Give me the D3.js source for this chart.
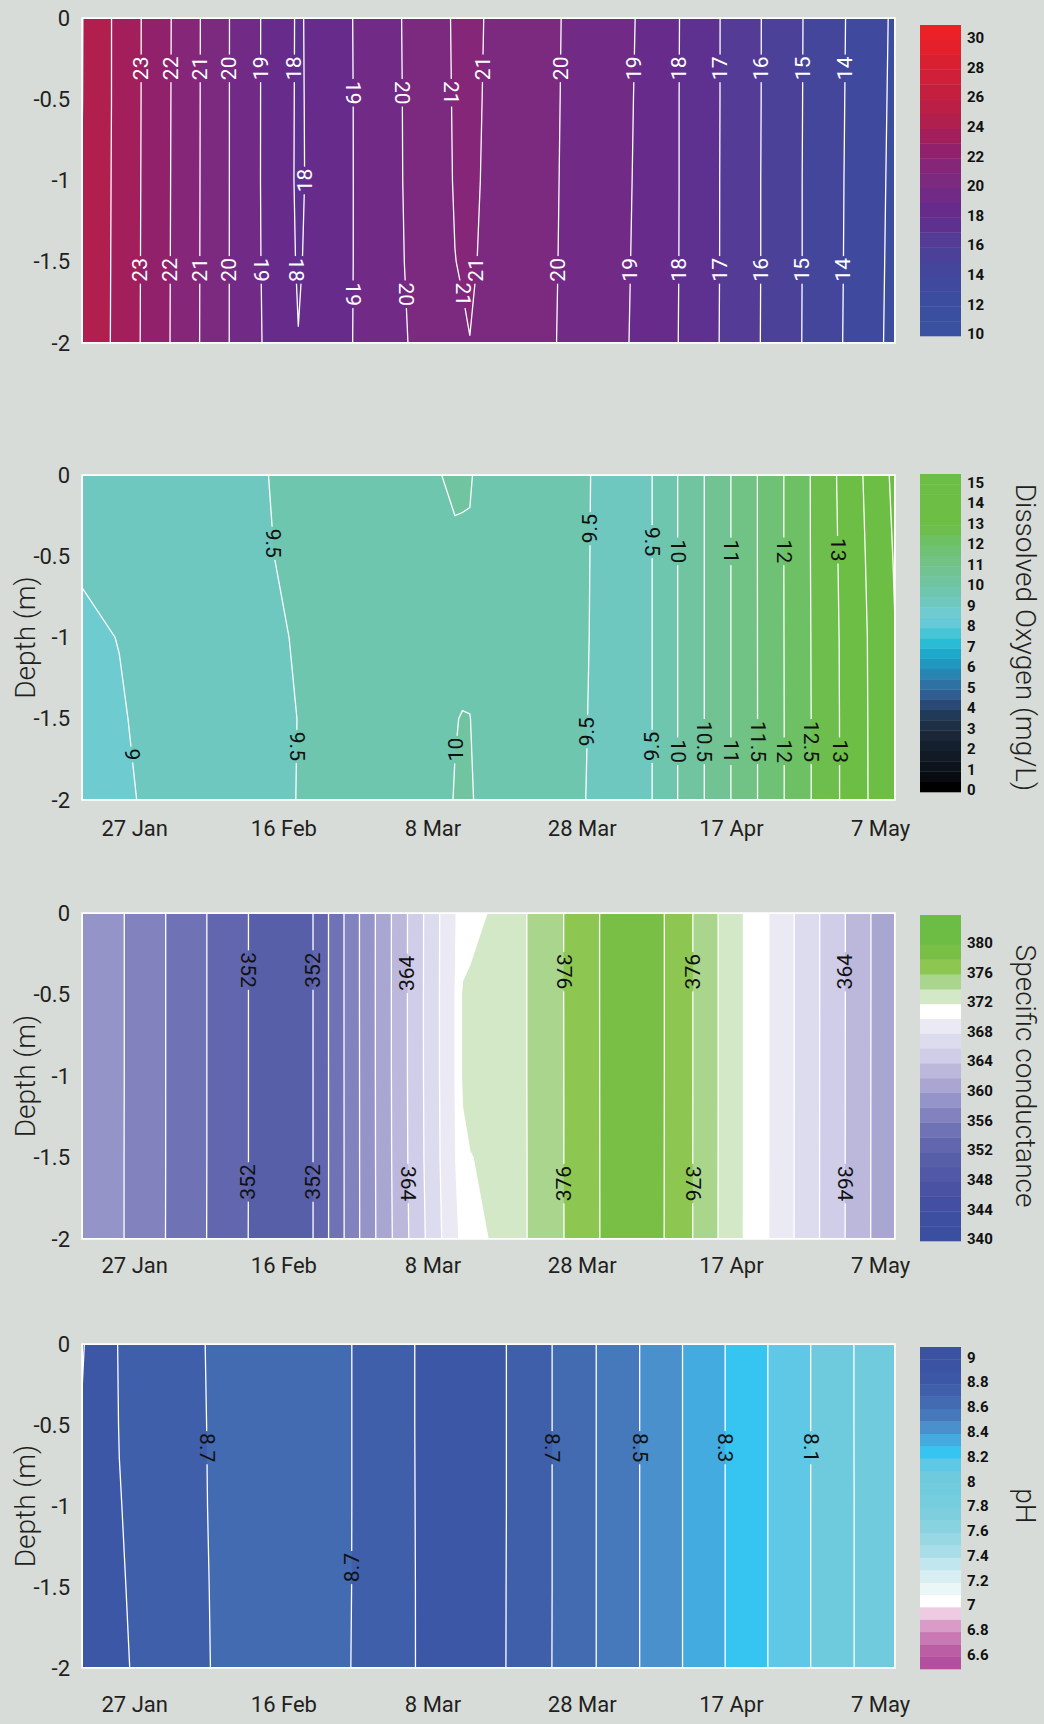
<!DOCTYPE html>
<html>
<head>
<meta charset="utf-8">
<script src="https://cdn.jsdelivr.net/npm/d3@7"></script>
<style>
  html, body { margin: 0; padding: 0; background: #d7dcd8; }
  svg { display: block; font-family: Roboto, "DejaVu Sans", sans-serif; }
</style>
</head>
<body>
<svg id="chart" width="1044" height="1724"></svg>
<script>
// sampling dates shared by the four profiles, depths of each profile
var sampleDates = ['2015-01-20', '2015-01-25', '2015-02-01', '2015-02-11', '2015-02-18', '2015-02-27',
  '2015-03-11', '2015-03-12', '2015-03-13', '2015-03-16', '2015-03-21', '2015-03-27',
  '2015-04-01', '2015-04-05', '2015-04-10', '2015-04-18', '2015-04-27', '2015-05-09'];
var depths = [0, -0.5, -1, -1.5, -2];
var depthTicks = [0, -0.5, -1, -1.5, -2];
var dateTicks = ['2015-01-27', '2015-02-16', '2015-03-08', '2015-03-28', '2015-04-17', '2015-05-07'];

// one row per depth, one value per sample date
var tempValues = [
  [25.03, 23.73, 21.99, 19.43, 17.89, 19.26, 21.09, 21.14, 21.18, 20.89, 20.41, 19.83, 19.34, 18.91, 18.02, 16.55, 14.94, 12.84],
  [25.02, 23.73, 21.98, 19.43, 17.88, 19.25, 21.07, 21.12, 21.17, 20.86, 20.39, 19.82, 19.33, 18.88, 18.01, 16.55, 14.93, 12.81],
  [24.99, 23.72, 21.97, 19.43, 17.87, 19.25, 21.05, 21.10, 21.15, 20.83, 20.37, 19.81, 19.31, 18.86, 18.01, 16.54, 14.92, 12.78],
  [24.97, 23.71, 21.96, 19.43, 17.92, 19.24, 20.99, 21.05, 21.10, 20.79, 20.35, 19.80, 19.30, 18.83, 18.004, 16.54, 14.92, 12.75],
  [24.95, 23.70, 21.95, 19.43, 18.02, 19.23, 20.85, 20.92, 20.99, 20.74, 20.32, 19.79, 19.28, 18.80, 17.99, 16.53, 14.91, 12.72]
];
var doValues = [
  [9.20, 9.26, 9.35, 9.44, 9.58, 9.77, 10.04, 10.03, 10.02, 9.85, 9.76, 9.57, 9.41, 9.29, 10.02, 11.14, 12.41, 14.11],
  [9.05, 9.20, 9.30, 9.43, 9.56, 9.70, 9.96, 9.965, 9.97, 9.83, 9.75, 9.565, 9.41, 9.29, 10.02, 11.14, 12.41, 14.04],
  [8.92, 9.01, 9.24, 9.36, 9.53, 9.62, 9.90, 9.91, 9.92, 9.80, 9.74, 9.56, 9.41, 9.29, 10.02, 11.14, 12.405, 13.99],
  [8.86, 8.96, 9.20, 9.31, 9.505, 9.57, 9.99, 10.01, 10.005, 9.83, 9.73, 9.55, 9.41, 9.29, 10.02, 11.14, 12.40, 13.98],
  [8.80, 8.93, 9.14, 9.30, 9.51, 9.55, 10.01, 10.02, 10.03, 9.85, 9.72, 9.54, 9.41, 9.29, 10.02, 11.14, 12.40, 13.975]
];
var condValues = [
  [359.95, 358.24, 355.72, 352.09, 350.10, 358.77, 369.90, 370.46, 370.96, 372.32, 374.13, 376.58, 378.67, 379.40, 377.12, 372.40, 367.11, 360.12],
  [359.95, 358.24, 355.72, 352.09, 350.10, 358.77, 369.93, 372.30, 372.60, 372.33, 374.13, 376.58, 378.67, 379.40, 377.12, 372.40, 367.11, 360.12],
  [359.95, 358.24, 355.72, 352.09, 350.10, 358.76, 369.93, 372.30, 372.60, 372.33, 374.13, 376.57, 378.67, 379.40, 377.12, 372.40, 367.11, 360.11],
  [359.94, 358.23, 355.72, 352.09, 350.10, 358.75, 369.85, 371.50, 371.95, 372.30, 374.12, 376.57, 378.66, 379.40, 377.11, 372.40, 367.10, 360.11],
  [359.94, 358.23, 355.71, 352.08, 350.10, 358.74, 369.60, 370.35, 370.90, 372.25, 374.12, 376.56, 378.66, 379.39, 377.11, 372.39, 367.10, 360.10]
];
var phValues = [
  [8.907, 8.795, 8.737, 8.655, 8.645, 8.714, 8.870, 8.870, 8.865, 8.830, 8.751, 8.650, 8.565, 8.496, 8.409, 8.269, 8.112, 7.905],
  [8.895, 8.798, 8.740, 8.655, 8.645, 8.714, 8.870, 8.870, 8.865, 8.830, 8.751, 8.650, 8.565, 8.496, 8.409, 8.269, 8.112, 7.905],
  [8.885, 8.803, 8.742, 8.655, 8.645, 8.714, 8.869, 8.869, 8.864, 8.830, 8.751, 8.650, 8.565, 8.496, 8.409, 8.269, 8.112, 7.906],
  [8.872, 8.808, 8.745, 8.656, 8.646, 8.714, 8.868, 8.868, 8.863, 8.829, 8.751, 8.650, 8.565, 8.496, 8.409, 8.269, 8.112, 7.906],
  [8.860, 8.813, 8.748, 8.656, 8.646, 8.715, 8.867, 8.867, 8.862, 8.829, 8.750, 8.650, 8.565, 8.496, 8.409, 8.269, 8.112, 7.906]
];

// colour-bar ticks
var tempTicks = [10, 12, 14, 16, 18, 20, 22, 24, 26, 28, 30];
var doTicks = [0, 1, 2, 3, 4, 5, 6, 7, 8, 9, 10, 11, 12, 13, 14, 15];
var condTicks = [340, 344, 348, 352, 356, 360, 364, 368, 372, 376, 380];
var phTicks = [6.6, 6.8, 7, 7.2, 7.4, 7.6, 7.8, 8, 8.2, 8.4, 8.6, 8.8, 9];

// contour labels: level, date near the line, depth, text rotation
var tempLabels = [
  [23, '2015-01-28', -0.31, -90], [22, '2015-02-01', -0.31, -90], [21, '2015-02-05', -0.31, -90],
  [20, '2015-02-09', -0.31, -90], [19, '2015-02-13', -0.31, -90], [18, '2015-02-17', -0.31, -90],
  [18, '2015-02-19', -1.0, -90],
  [19, '2015-02-25', -0.46, 90], [20, '2015-03-04', -0.46, 90], [21, '2015-03-10', -0.46, 90],
  [21, '2015-03-15', -0.31, -90], [20, '2015-03-25', -0.31, -90], [19, '2015-04-04', -0.31, -90],
  [18, '2015-04-10', -0.31, -90], [17, '2015-04-15', -0.31, -90], [16, '2015-04-21', -0.31, -90],
  [15, '2015-04-26', -0.31, -90], [14, '2015-05-02', -0.31, -90],
  [23, '2015-01-28', -1.55, -90], [22, '2015-02-01', -1.55, -90], [21, '2015-02-05', -1.55, -90],
  [20, '2015-02-09', -1.55, -90], [19, '2015-02-13', -1.55, 90], [18, '2015-02-17', -1.55, 90],
  [19, '2015-02-25', -1.7, 90], [20, '2015-03-04', -1.7, 90], [21, '2015-03-11', -1.7, 90],
  [21, '2015-03-14', -1.55, -90], [20, '2015-03-25', -1.55, -90], [19, '2015-04-04', -1.55, -90],
  [18, '2015-04-10', -1.55, -90], [17, '2015-04-15', -1.55, -90], [16, '2015-04-21', -1.55, -90],
  [15, '2015-04-26', -1.55, -90], [14, '2015-05-02', -1.55, -90]
];
var doLabels = [
  [9.5, '2015-02-15', -0.42, 90], [9.5, '2015-03-29', -0.33, -90], [9.5, '2015-04-06', -0.41, 90],
  [10, '2015-04-10', -0.47, 90], [11, '2015-04-17', -0.47, 90], [12, '2015-04-24', -0.47, 90],
  [13, '2015-05-01', -0.46, 90],
  [9, '2015-01-27', -1.72, 90], [9.5, '2015-02-17', -1.67, 90], [10, '2015-03-10', -1.69, -90],
  [9.5, '2015-03-28', -1.58, -90], [9.5, '2015-04-06', -1.67, -90], [10, '2015-04-10', -1.7, 90],
  [10.5, '2015-04-14', -1.64, 90], [11, '2015-04-17', -1.7, 90], [11.5, '2015-04-21', -1.64, 90],
  [12, '2015-04-24', -1.7, 90], [12.5, '2015-04-28', -1.64, 90], [13, '2015-05-01', -1.7, 90]
];
var condLabels = [
  [352, '2015-02-11', -0.35, 90], [352, '2015-02-20', -0.35, -90], [364, '2015-03-05', -0.37, -90],
  [376, '2015-03-26', -0.36, 90], [376, '2015-04-12', -0.36, -90], [364, '2015-05-02', -0.36, -90],
  [352, '2015-02-11', -1.65, -90], [352, '2015-02-20', -1.65, -90], [364, '2015-03-05', -1.66, 90],
  [376, '2015-03-26', -1.66, -90], [376, '2015-04-12', -1.66, 90], [364, '2015-05-02', -1.66, 90]
];
var phLabels = [
  [8.7, '2015-02-05', -0.64, 90], [8.7, '2015-03-24', -0.64, 90], [8.5, '2015-04-05', -0.64, 90],
  [8.3, '2015-04-16', -0.64, 90], [8.1, '2015-04-28', -0.64, 90],
  [8.7, '2015-02-25', -1.38, -90]
];

// band colours, lowest band first
var tempColors = ['#3a50a1', '#3b4fa0', '#3c4da0', '#3f4a9f', '#44469c', '#4b4199', '#533b96', '#5e3191',
  '#672b8c', '#712a86', '#7b2a7f', '#862679', '#92216c', '#a31f5c', '#b01f4d', '#bb1f46', '#c51f40',
  '#cf1f39', '#d91f32', '#e3202b', '#ec2027'];
var doColors = ['#000000', '#080b0f', '#0d131b', '#111a25', '#15202f', '#192739', '#1d2f45', '#213a58',
  '#2a4a75', '#305e92', '#2d72a3', '#2885b1', '#2197bf', '#1ea9cb', '#28bdd4', '#48c4d7', '#66c9d8',
  '#6ecbd0', '#6fc8c0', '#6fc6ae', '#70c4a0', '#71c393', '#71c285', '#6fc176', '#6ec065', '#6dbe4c',
  '#6dbe45', '#6dbe45', '#6dbe45', '#6dbe45', '#6dbe45'];
var condColors = ['#3a4f9f', '#3d4fa0', '#4350a1', '#4a53a3', '#5159a6', '#585fa9', '#6166ae', '#6f72b5',
  '#8282bf', '#9594c8', '#a9a6d2', '#bcb8dc', '#cfcde8', '#dddcef', '#ebeaf4', '#ffffff', '#d2e8c6',
  '#a9d58d', '#8dc751', '#79bf46', '#6dbd45', '#6cbd45'];
var phColors = ['#b24f9e', '#bc5ea4', '#c878b3', '#d99bc8', '#eecbe0', '#ffffff', '#ebf6f7', '#d7eef3',
  '#c1e6ed', '#a9dee8', '#98d8e3', '#89d3e0', '#7dcfde', '#75cdde', '#70cbdc', '#6ecbdd', '#5ec8e6',
  '#35c5f0', '#44abe0', '#4a90cd', '#4579bb', '#436bb1', '#3f5fab', '#3c57a6', '#3b53a2', '#3a52a0'];

var W = 1044, H = 1724;
var x0 = 82, x1 = 895;
var ink = '#231f20';
var parseDay = d3.utcParse('%Y-%m-%d');
var dates = sampleDates.map(parseDay);
var x = d3.scaleUtc().domain(d3.extent(dates)).range([x0, x1]);

var svg = d3.select('#chart');
var defs = svg.append('defs');
svg.append('rect').attr('width', W).attr('height', H).attr('fill', '#d7dcd8');

var panels = [
  {values: tempValues, min: 10, max: 31, step: 1, colors: tempColors, ticks: tempTicks, labels: tempLabels,
    top: 18, bottom: 343, barTop: 25, barBottom: 336, labelFill: '#fff', title: null, dateAxis: null},
  {values: doValues, min: 0, max: 15.5, step: 0.5, colors: doColors, ticks: doTicks, labels: doLabels,
    top: 475, bottom: 800, barTop: 474, barBottom: 792, labelFill: '#111', title: 'Dissolved Oxygen (mg/L)', dateAxis: 28},
  {values: condValues, min: 340, max: 384, step: 2, colors: condColors, ticks: condTicks, labels: condLabels,
    top: 913, bottom: 1239, barTop: 915, barBottom: 1241, labelFill: '#111', title: 'Specific conductance', dateAxis: 26},
  {values: phValues, min: 6.5, max: 9.1, step: 0.1, colors: phColors, ticks: phTicks, labels: phLabels,
    top: 1344, bottom: 1668, barTop: 1347, barBottom: 1669, labelFill: '#111', title: 'pH', dateAxis: 36}
];

function drawPanel(p, k) {
  var y = d3.scaleLinear().domain([0, -2]).range([p.top, p.bottom]);
  var n = dates.length, m = depths.length;
  var g = svg.append('g');

  // grid coordinates of d3.contours -> screen, sample i sits at i + 0.5
  var gx = d3.scaleLinear().domain(d3.range(n).map(function (i) { return i + 0.5; }))
    .range(dates.map(function (d) { return x(d); })).clamp(true);
  var gy = d3.scaleLinear().domain(d3.range(m).map(function (j) { return j + 0.5; }))
    .range(depths.map(function (d) { return y(d); })).clamp(true);
  var path = d3.geoPath(d3.geoTransform({
    point: function (px, py) { this.stream.point(gx(px), gy(py)); }
  }));

  var nb = Math.round((p.max - p.min) / p.step);
  var levels = d3.range(nb).map(function (i) { return +(p.min + i * p.step).toFixed(2); });
  var flat = [].concat.apply([], p.values);
  var bands = d3.contours().size([n, m]).thresholds(levels)(flat);

  defs.append('clipPath').attr('id', 'clip' + k).append('rect')
    .attr('x', x0).attr('y', p.top).attr('width', x1 - x0).attr('height', p.bottom - p.top);
  var mask = defs.append('mask').attr('id', 'mask' + k).attr('maskUnits', 'userSpaceOnUse')
    .attr('x', 0).attr('y', 0).attr('width', W).attr('height', H);
  mask.append('rect').attr('width', W).attr('height', H).attr('fill', '#fff');

  g.append('g').attr('clip-path', 'url(#clip' + k + ')')
    .selectAll('path').data(bands).join('path')
    .attr('d', path)
    .attr('fill', function (d, i) { return p.colors[i]; });

  g.append('g').attr('clip-path', 'url(#clip' + k + ')').attr('mask', 'url(#mask' + k + ')')
    .selectAll('path').data(bands.slice(1)).join('path')
    .attr('d', path)
    .attr('fill', 'none')
    .attr('stroke', '#fff')
    .attr('stroke-width', 1.3);

  g.append('rect')
    .attr('x', x0).attr('y', p.top).attr('width', x1 - x0).attr('height', p.bottom - p.top)
    .attr('fill', 'none').attr('stroke', '#fff').attr('stroke-width', 1.5);

  // where a level crosses a given depth, nearest to a date
  var rowIdx = d3.scaleLinear().domain(depths).range(d3.range(m));
  function crossing(level, depth, near) {
    var r = rowIdx(depth), j0 = Math.min(Math.floor(r), m - 1), j1 = Math.min(j0 + 1, m - 1), t = r - j0;
    var row = p.values[j0].map(function (v, i) { return v * (1 - t) + p.values[j1][i] * t; });
    var target = x(parseDay(near)), best = null;
    for (var i = 0; i < n - 1; i++) {
      var a = row[i] - level, b = row[i + 1] - level;
      if (a * b < 0) {
        var xa = x(dates[i]), xb = x(dates[i + 1]);
        var px = xa + a / (a - b) * (xb - xa);
        if (best === null || Math.abs(px - target) < Math.abs(best - target)) best = px;
      }
    }
    return best;
  }

  var placed = p.labels.map(function (d) {
    return {text: String(d[0]), cx: crossing(d[0], d[2], d[1]), cy: y(d[2]), rot: d[3]};
  }).filter(function (d) { return d.cx !== null; });

  var texts = g.append('g').selectAll('text').data(placed).join('text')
    .attr('transform', function (d) { return 'translate(' + d.cx + ',' + d.cy + ') rotate(' + d.rot + ')'; })
    .attr('text-anchor', 'middle')
    .attr('dominant-baseline', 'central')
    .attr('font-size', 21)
    .attr('fill', p.labelFill)
    .text(function (d) { return d.text; });

  texts.each(function (d) {
    var len = this.getComputedTextLength();
    mask.append('rect')
      .attr('x', d.cx - 8).attr('y', d.cy - len / 2 - 2)
      .attr('width', 16).attr('height', len + 4)
      .attr('fill', '#000');
  });

  // depth axis
  var ya = g.append('g').attr('transform', 'translate(' + x0 + ',0)')
    .call(d3.axisLeft(y).tickValues(depthTicks).tickSize(0).tickPadding(12)
      .tickFormat(function (d) { return String(d); }));
  ya.select('.domain').remove();
  ya.attr('font-family', null).attr('font-size', 22);
  ya.selectAll('text').attr('fill', ink);

  if (p.dateAxis !== null) {
    var xa = g.append('g').attr('transform', 'translate(0,' + (p.bottom + p.dateAxis) + ')')
      .call(d3.axisBottom(x).tickValues(dateTicks.map(parseDay)).tickSize(0).tickPadding(0)
        .tickFormat(d3.utcFormat('%-d %b')));
    xa.select('.domain').remove();
    xa.attr('font-family', null).attr('font-size', 22);
    xa.selectAll('text').attr('fill', ink).attr('dy', '0.35em');

    g.append('text')
      .attr('transform', 'translate(35,' + (p.top + p.bottom) / 2 + ') rotate(-90)')
      .attr('text-anchor', 'middle')
      .attr('font-size', 28)
      .attr('font-weight', 300)
      .attr('fill', ink)
      .text('Depth (m)');
  }

  // colour bar
  var ls = d3.scaleLinear().domain([p.min, p.max]).range([p.barBottom, p.barTop]);
  g.append('g').selectAll('rect').data(levels).join('rect')
    .attr('x', 920).attr('width', 41)
    .attr('y', function (d) { return ls(d + p.step); })
    .attr('height', function (d) { return ls(d) - ls(d + p.step) + 0.3; })
    .attr('fill', function (d, i) { return p.colors[i]; });

  var la = g.append('g').attr('transform', 'translate(961,-2)')
    .call(d3.axisRight(ls).tickValues(p.ticks).tickSize(0).tickPadding(6)
      .tickFormat(function (d) { return String(d); }));
  la.select('.domain').remove();
  la.attr('font-family', null).attr('font-size', 15).attr('font-weight', 700);
  la.selectAll('text').attr('fill', '#111');

  if (p.title) {
    g.append('text')
      .attr('transform', 'translate(1016,' + (p.top + p.bottom) / 2 + ') rotate(90)')
      .attr('text-anchor', 'middle')
      .attr('font-size', 28)
      .attr('font-weight', 300)
      .attr('fill', ink)
      .text(p.title);
  }
}

panels.forEach(drawPanel);
</script>
</body>
</html>
